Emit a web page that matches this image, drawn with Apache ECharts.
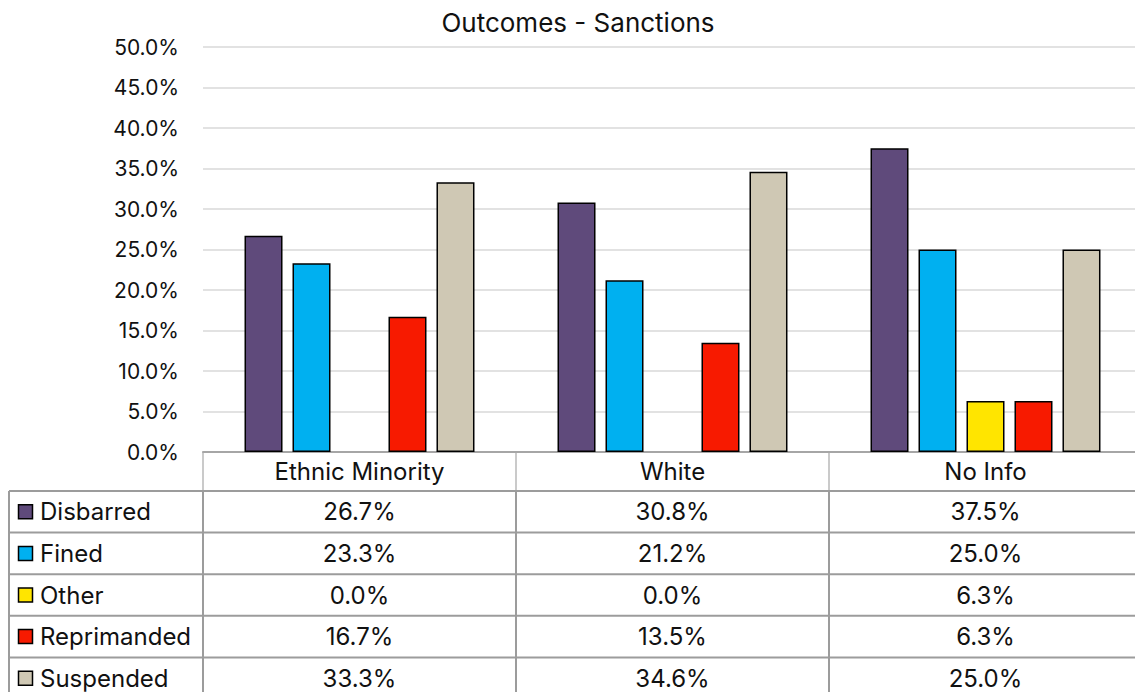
<!DOCTYPE html>
<html>
<head>
<meta charset="utf-8">
<script src="https://cdn.jsdelivr.net/npm/echarts@6/dist/echarts.min.js"></script>
<style>
  html, body { margin: 0; padding: 0; background: #ffffff; overflow: hidden; }
  /* the chart canvas is a few pixels wider than the window; its right edge is cut off */
  #chart { width: 1142px; height: 692px; }
</style>
</head>
<body>
<div id="chart"></div>
<script>
// Sanction outcomes by ethnicity group (percent of cases)
const categories = ['Ethnic Minority', 'White', 'No Info'];
const seriesNames = ['Disbarred', 'Fined', 'Other', 'Reprimanded', 'Suspended'];
const disbarred = [26.7, 30.8, 37.5];
const fined = [23.3, 21.2, 25.0];
const other = [0.0, 0.0, 6.3];
const reprimanded = [16.7, 13.5, 6.3];
const suspended = [33.3, 34.6, 25.0];
const yMin = 0, yMax = 50, yStep = 5;

const seriesValues = [disbarred, fined, other, reprimanded, suspended];
const colors = ['#5F4A7B', '#00B0F0', '#FFE500', '#F71A00', '#CFC8B4'];
const FONT = 'Inter, "Noto Sans", sans-serif';
const pct = v => v.toFixed(1) + '%';

// Geometry of plot and data table
const CHART_W = 1142;
const GRID_LEFT = 203, GRID_TOP = 47, GRID_RIGHT = 0, GRID_H = 405;
const HEADER_H = 39, ROW_H = 41.6, TABLE_LEFT = 9;
const LINE_COLOR = '#9C9C9C';
const TABLE_FONT = 24;

const chart = echarts.init(document.getElementById('chart'), null, { renderer: 'svg' });

chart.setOption({
  animation: false,
  textStyle: { fontFamily: FONT },
  title: {
    text: 'Outcomes - Sanctions',
    left: 578, top: 9, padding: 0, textAlign: 'center',
    textStyle: { fontFamily: FONT, fontSize: 26, fontWeight: 'normal', color: '#111' }
  },
  grid: { left: GRID_LEFT, top: GRID_TOP, right: GRID_RIGHT, height: GRID_H, containLabel: false },
  xAxis: {
    type: 'category',
    data: categories,
    axisLine: { lineStyle: { color: '#A6A6A6', width: 2 } },
    axisTick: { show: false },
    axisLabel: {
      margin: HEADER_H / 2, verticalAlign: 'middle',
      fontFamily: FONT, fontSize: TABLE_FONT, color: '#111'
    },
    splitLine: { show: false }
  },
  yAxis: {
    type: 'value',
    min: yMin, max: yMax, interval: yStep,
    axisLine: { show: false },
    axisTick: { show: false },
    axisLabel: { margin: 24, fontFamily: FONT, fontSize: 21, color: '#111', formatter: v => pct(v) },
    splitLine: { lineStyle: { color: '#D9D9D9', width: 1.5 } }
  },
  series: seriesNames.map((name, i) => ({
    name,
    type: 'bar',
    barWidth: 38,
    barGap: '26.3%',
    itemStyle: { color: colors[i], borderColor: '#000', borderWidth: 1.5 },
    data: seriesValues[i].map(v => v === 0 ? { value: v, itemStyle: { borderWidth: 0 } } : v)
  }))
});

// Data table beneath the axis: legend column, one column per category
function drawTable() {
  const centers = categories.map((c, i) => chart.convertToPixel({ xAxisIndex: 0 }, i));
  const band = centers.length > 1 ? centers[1] - centers[0] : 900;
  const axisY = GRID_TOP + GRID_H;
  const firstRow = axisY + HEADER_H;
  const bottom = 700;
  const right = CHART_W - GRID_RIGHT;
  const els = [];

  // header column separators (lighter)
  centers.forEach(cx => {
    const x = cx - band / 2;
    els.push({ type: 'line', shape: { x1: x, y1: axisY, x2: x, y2: firstRow },
      style: { stroke: '#B8B8B8', lineWidth: 1.5 }, silent: true });
  });
  // body column separators
  centers.forEach(cx => {
    const x = cx - band / 2;
    els.push({ type: 'line', shape: { x1: x, y1: firstRow, x2: x, y2: bottom },
      style: { stroke: LINE_COLOR, lineWidth: 2 }, silent: true });
  });
  els.push({ type: 'line', shape: { x1: TABLE_LEFT, y1: firstRow, x2: TABLE_LEFT, y2: bottom },
    style: { stroke: LINE_COLOR, lineWidth: 2 }, silent: true });

  seriesNames.forEach((name, r) => {
    const top = firstRow + r * ROW_H;
    const cy = top + ROW_H / 2;
    els.push({ type: 'line', shape: { x1: TABLE_LEFT, y1: top, x2: right, y2: top },
      style: { stroke: LINE_COLOR, lineWidth: 2 }, silent: true });
    // legend key
    els.push({ type: 'rect', shape: { x: 18.5, y: cy - 7, width: 14, height: 14 },
      style: { fill: colors[r], stroke: '#000', lineWidth: 1.5 }, silent: true });
    els.push({ type: 'text', x: 40, y: cy,
      style: { text: name, fontFamily: FONT, fontSize: TABLE_FONT, fill: '#111',
               textAlign: 'left', textVerticalAlign: 'middle' }, silent: true });
    // values
    seriesValues[r].forEach((v, c) => {
      els.push({ type: 'text', x: centers[c], y: cy,
        style: { text: pct(v), fontFamily: FONT, fontSize: TABLE_FONT, fill: '#111',
                 textAlign: 'center', textVerticalAlign: 'middle' }, silent: true });
    });
  });

  chart.setOption({ graphic: { elements: els } });
}
drawTable();
</script>
</body>
</html>
